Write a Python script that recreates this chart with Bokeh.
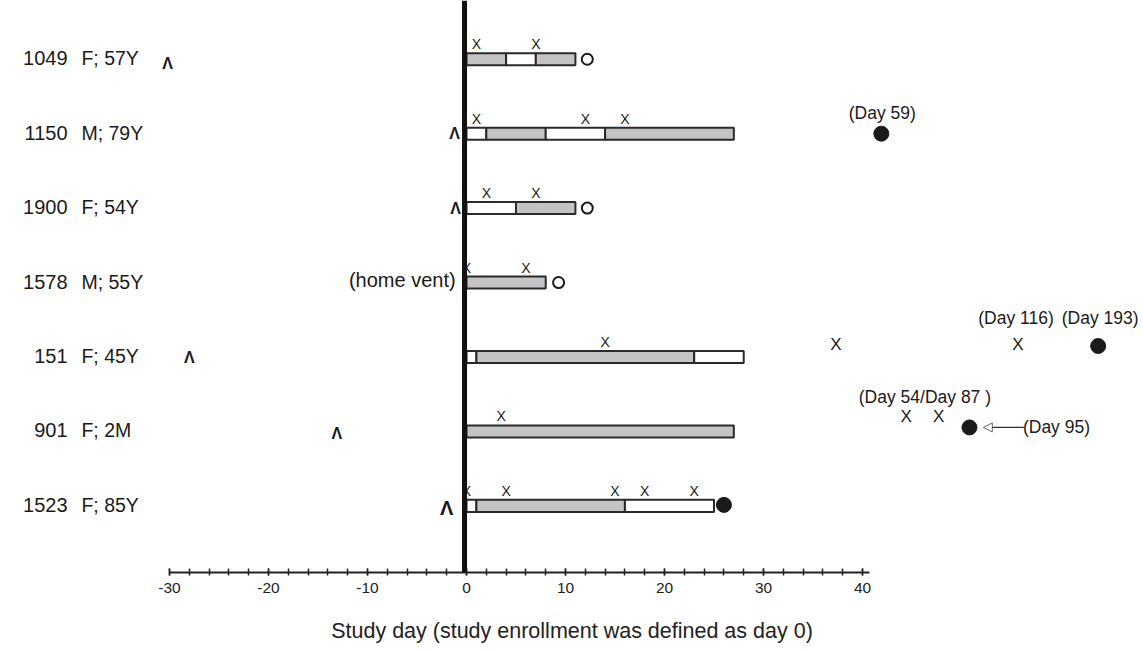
from bokeh.plotting import figure
from bokeh.models import Range1d, FixedTicker, Span, Arrow, NormalHead, ColumnDataSource
from bokeh.core.properties import value
from bokeh.embed import file_html
from bokeh.resources import INLINE

# ---------------- data ----------------
patients = ["1049", "1150", "1900", "1578", "151", "901", "1523"]
demog = ["F; 57Y", "M; 79Y", "F; 54Y", "M; 55Y", "F; 45Y", "F; 2M", "F; 85Y"]

# treatment segments (row index, start day, end day, kind)
seg_row = [0, 0, 0, 1, 1, 1, 1, 2, 2, 3, 4, 4, 4, 5, 6, 6, 6]
seg_start = [0, 4, 7, 0, 2, 8, 14, 0, 5, 0, 0, 1, 23, 0, 0, 1, 16]
seg_end = [4, 7, 11, 2, 8, 14, 27, 5, 11, 8, 1, 23, 28, 27, 1, 16, 25]
seg_kind = ["shaded", "clear", "shaded", "clear", "shaded", "clear", "shaded",
            "clear", "shaded", "shaded", "clear", "shaded", "clear", "shaded",
            "clear", "shaded", "clear"]

# X events on the day scale
x_row = [0, 0, 1, 1, 1, 2, 2, 3, 3, 4, 5, 6, 6, 6, 6, 6]
x_day = [1, 7, 1, 12, 16, 2, 7, 0, 6, 14, 3.5, 0, 4, 15, 18, 23]

# X events drawn past the axis (positions as drawn)
far_x_row = [4, 4, 5, 5]
far_x_pos = [37.3, 55.7, 44.4, 47.7]

# open circles
open_row = [0, 2, 3]
open_day = [12.2, 12.2, 9.3]

# filled circles
dot_row = [1, 4, 5, 6]
dot_pos = [41.9, 63.8, 50.8, 26.0]

# triangles (Λ)
tri_row = [0, 1, 2, 4, 5, 6]
tri_day = [-30.2, -1.2, -1.1, -28.0, -13.1, -2.0]

# day annotations
note_text = ["(Day 59)", "(Day 116)", "(Day 193)", "(Day 54/Day 87 )"]
note_row = [1, 4, 4, 5]
note_pos = [42.0, 55.5, 64.0, 46.3]

axis_ticks = [-30, -20, -10, 0, 10, 20, 30, 40]
minor_ticks = list(range(-30, 41, 2))

# ---------------- layout helpers ----------------
PX = 74.4          # pixels per row
def dy(px):
    return px / PX

FONT = value("Liberation Sans")
INK = "#1a1a1a"

p = figure(width=1143, height=651,
           x_range=Range1d(-47.07, 68.38), y_range=Range1d(6.895, -0.789),
           output_backend="svg", toolbar_location=None,
           min_border_left=0, min_border_right=0, min_border_top=0, min_border_bottom=79,
           y_axis_location=None)
p.outline_line_color = None
p.xgrid.visible = False
p.ygrid.visible = False
p.background_fill_color = "white"

ax = p.xaxis[0]
ax.bounds = (-30, 40.7)
ax.ticker = FixedTicker(ticks=axis_ticks, minor_ticks=minor_ticks)
ax.major_label_overrides = {t: str(t) for t in axis_ticks}
ax.axis_line_width = 2
ax.axis_line_color = "#222222"
ax.major_tick_in = 4
ax.major_tick_out = 3
ax.minor_tick_in = 4
ax.minor_tick_out = 3
ax.major_tick_line_width = 1.5
ax.minor_tick_line_width = 1.5
ax.major_tick_line_color = "#222222"
ax.minor_tick_line_color = "#222222"
ax.major_label_text_font = "Liberation Sans"
ax.major_label_text_font_size = "15.5px"
ax.major_label_text_color = "#222222"
ax.major_label_standoff = 7
ax.axis_label = "Study day (study enrollment was defined as day 0)"
ax.axis_label_text_font = "Liberation Sans"
ax.axis_label_text_font_size = "21.5px"
ax.axis_label_text_font_style = "normal"
ax.axis_label_text_color = "#222222"
ax.axis_label_standoff = 23

# bars
colors = {"shaded": "#c4c4c4", "clear": "#ffffff"}
seg_src = ColumnDataSource(dict(y=seg_row, left=seg_start, right=seg_end,
                                color=[colors[k] for k in seg_kind]))
p.hbar(y="y", left="left", right="right", height=dy(12), fill_color="color",
       line_color="#2a2a2a", line_width=2, source=seg_src)

# X marks above bars
p.text(x=x_day, y=x_row, text=["X"] * len(x_day), text_font=FONT,
       text_font_size=value("14px"), text_color=INK, text_align="center",
       text_baseline="middle", y_offset=-15)
p.text(x=far_x_pos, y=far_x_row, text=["X"] * len(far_x_pos), text_font=FONT,
       text_font_size=value("17px"), text_color=INK, text_align="center",
       text_baseline="middle", y_offset=[-12, -12, -15, -15])

# circles
p.scatter(x=open_day, y=open_row, size=11, marker="circle", fill_color="white",
          line_color=INK, line_width=2)
dot_y = [r + dy(o) for r, o in zip(dot_row, [0, -11, -4, -1])]
p.scatter(x=dot_pos, y=dot_y, size=15, marker="circle", fill_color=INK,
          line_color=INK)

# triangles
tri_src = ColumnDataSource(dict(x=tri_day, y=tri_row, t=["Λ"] * len(tri_day),
                                fs=["16px"] * 5 + ["20px"],
                                yo=[4, 0, 0, 1, 2, 2]))
p.text(x="x", y="y", text="t", text_font=FONT, text_font_size="fs",
       text_font_style="bold", text_color=INK, text_align="center",
       text_baseline="middle", y_offset="yo", source=tri_src)

# row labels
p.text(x=[-40.3] * 7, y=list(range(7)), text=patients, text_font=FONT,
       text_font_size=value("20px"), text_color=INK, text_align="right",
       text_baseline="middle", y_offset=-1)
p.text(x=[-38.9] * 7, y=list(range(7)), text=demog, text_font=FONT,
       text_font_size=value("19.5px"), text_color=INK, text_align="left",
       text_baseline="middle", y_offset=-1)

p.text(x=[-1.1], y=[3], text=["(home vent)"], text_font=FONT,
       text_font_size=value("20px"), text_color=INK, text_align="right",
       text_baseline="middle", y_offset=-3)

# day annotations
p.text(x=note_pos, y=note_row, text=note_text, text_font=FONT,
       text_font_size=value("17.5px"), text_color=INK, text_align="center",
       text_baseline="middle", y_offset=[-21, -39, -39, -34])
p.text(x=[56.2], y=[5], text=["(Day 95)"], text_font=FONT,
       text_font_size=value("17.5px"), text_color=INK, text_align="left",
       text_baseline="middle", y_offset=-4)
p.add_layout(Arrow(end=NormalHead(size=9, fill_color="white", line_color="#666666",
                                  line_width=1),
                   x_start=56.3, y_start=5 + dy(-4), x_end=52.2, y_end=5 + dy(-4),
                   line_color="#333333", line_width=1.2))

# day-0 reference line (drawn just left of the bars' start)
p.add_layout(Span(location=-0.2, dimension="height", line_color="#111111", line_width=5))

open("out.html", "w").write(file_html(p, INLINE))
